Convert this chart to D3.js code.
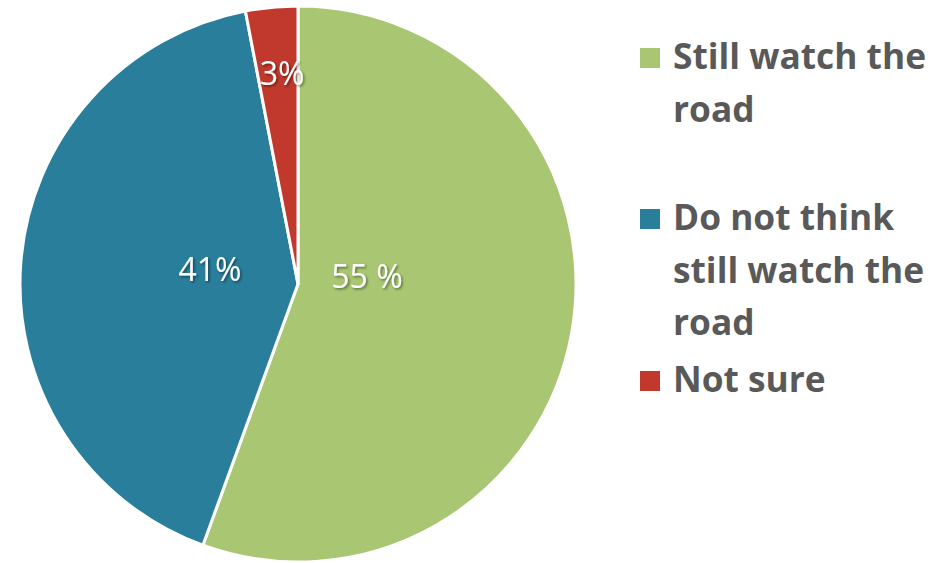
<!DOCTYPE html>
<html><head><meta charset="utf-8">
<script src="https://cdn.jsdelivr.net/npm/d3@7"></script>
<style>body{margin:0;background:#fff}svg{display:block}</style>
</head><body>
<svg id="c" width="931" height="563"></svg>
<script>
const categories = ["Still watch the road", "Do not think still watch the road", "Not sure"];
const values = [55, 41, 3];
const valueLabels = ["55 %", "41%", "3%"];
const legendLines = [["Still watch the", "road"], ["Do not think", "still watch the", "road"], ["Not sure"]];
const colors = ["#A9C672", "#297E9C", "#C0392C"];

const svg = d3.select("#c");
const cx = 298, cy = 284, R = 278;
const g = svg.append("g").attr("transform", `translate(${cx},${cy})`);
const pie = d3.pie().sort(null).value(d => d);
const arcs = pie(values);
const arc = d3.arc().innerRadius(0).outerRadius(R);
g.selectAll("path").data(arcs).join("path")
  .attr("d", arc).attr("fill", (d, i) => colors[i])
  .attr("stroke", "#fff").attr("stroke-width", 3).attr("stroke-linejoin", "round");

// label placement (layout): offsets from centre
const labelPos = [[69, -9], [-88, -16], [-16, -212]];
const defs = svg.append("defs");
const f = defs.append("filter").attr("id", "sh").attr("x", "-20%").attr("y", "-20%").attr("width", "140%").attr("height", "140%");
f.append("feDropShadow").attr("dx", 1.5).attr("dy", 1.5).attr("stdDeviation", 1).attr("flood-color", "#000").attr("flood-opacity", 0.45);
g.selectAll("text.lbl").data(arcs).join("text").attr("class", "lbl")
  .attr("x", (d, i) => labelPos[i][0]).attr("y", (d, i) => labelPos[i][1])
  .attr("text-anchor", "middle").attr("dominant-baseline", "central")
  .attr("fill", "#fff").attr("font-family", "'Open Sans', sans-serif")
  .attr("font-size", 32).attr("filter", "url(#sh)")
  .text((d, i) => valueLabels[i]);

// legend
const legendTop = [48, 209, 371];
const lg = svg.append("g");
categories.forEach((c, i) => {
  lg.append("rect").attr("x", 640).attr("y", legendTop[i]).attr("width", 20).attr("height", 20).attr("fill", colors[i]);
  const t = lg.append("text").attr("x", 673).attr("y", legendTop[i] + 21)
    .attr("fill", "#595959").attr("font-family", "'Open Sans', sans-serif")
    .attr("font-weight", "bold").attr("font-size", 35.3);
  legendLines[i].forEach((l, j) => {
    t.append("tspan").attr("x", 673).attr("dy", j === 0 ? 0 : 52.5).text(l);
  });
});
</script>
</body></html>
